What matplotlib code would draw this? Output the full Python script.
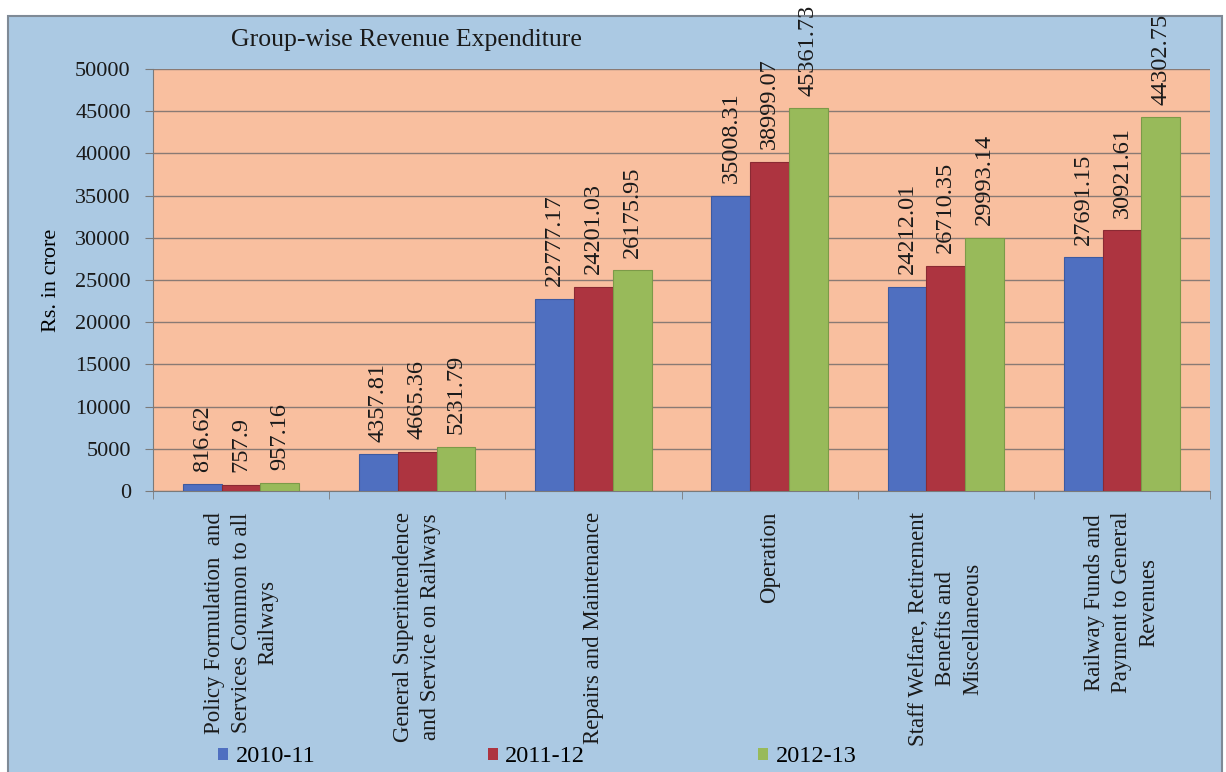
import matplotlib.pyplot as plt
import numpy as np
from matplotlib.patches import Rectangle

plt.rcParams['font.family'] = ['Liberation Serif', 'DejaVu Serif']

categories = [
    "Policy Formulation  and\nServices Common to all\nRailways",
    "General Superintendence\nand Service on Railways",
    "Repairs and Maintenance",
    "Operation",
    "Staff Welfare, Retirement\nBenefits and\nMiscellaneous",
    "Railway Funds and\nPayment to General\nRevenues",
]
years = ["2010-11", "2011-12", "2012-13"]
exp_2010_11 = [816.62, 4357.81, 22777.17, 35008.31, 24212.01, 27691.15]
exp_2011_12 = [757.9, 4665.36, 24201.03, 38999.07, 26710.35, 30921.61]
exp_2012_13 = [957.16, 5231.79, 26175.95, 45361.73, 29993.14, 44302.75]
yticks = list(range(0, 50001, 5000))

series = [exp_2010_11, exp_2011_12, exp_2012_13]
colors = ['#4f6fc0', '#ad3440', '#98ba5a']
edges = ['#3d5aa0', '#8a2a33', '#7c9a48']

fig = plt.figure(figsize=(12.26, 7.72), dpi=100)
fig.patch.set_facecolor('white')

# light blue chart panel with grey border
panel = Rectangle((8 / 1226, -0.01), 1214 / 1226, 1 - 16 / 772 + 0.01,
                  transform=fig.transFigure, facecolor='#abc9e3',
                  edgecolor='#7f8a96', linewidth=1.5, zorder=-10)
fig.patches.append(panel)

ax = fig.add_axes([153 / 1226, 1 - 491 / 772, (1210 - 153) / 1226, (491 - 69) / 772])
ax.set_facecolor('#f9bf9f')

x = np.arange(len(categories))
w = 0.22
for i, (vals, c, ec) in enumerate(zip(series, colors, edges)):
    bars = ax.bar(x + (i - 1) * w, vals, w, color=c, edgecolor=ec,
                  linewidth=0.8, label=years[i], zorder=3)
    for b, v in zip(bars, vals):
        ax.annotate(str(v), (b.get_x() + b.get_width() / 2, v),
                    xytext=(0, 9), textcoords='offset points',
                    rotation=90, ha='center', va='bottom', fontsize=17.5,
                    color='#1a1a1a', zorder=4)

ax.set_xlim(-0.5, len(categories) - 0.5)
ax.set_ylim(0, 50000)
ax.set_yticks(yticks)
ax.set_yticklabels([str(t) for t in yticks], fontsize=16, color='#1a1a1a')
ax.yaxis.grid(True, color='#8a7a74', linewidth=1.0, zorder=1)
ax.set_axisbelow(True)

ax.set_xticks(x)
ax.set_xticklabels(categories, rotation=90, fontsize=16.5, ha='center',
                   va='top', multialignment='center', linespacing=1.38,
                   color='#1a1a1a')
ax.tick_params(axis='x', which='major', length=0, pad=15)
ax.set_xticks(np.arange(-0.5, len(categories)), minor=True)
ax.tick_params(axis='x', which='minor', length=6, color='#7a7a7a')
ax.tick_params(axis='y', length=6, color='#7a7a7a', pad=10)

for s in ['top', 'right']:
    ax.spines[s].set_visible(False)
for s in ['left', 'bottom']:
    ax.spines[s].set_color('#7a7a7a')

ax.set_ylabel('Rs. in crore', fontsize=16, labelpad=10)

fig.text(406 / 1226, 1 - 40 / 772, 'Group-wise Revenue Expenditure',
         fontsize=18.5, ha='center', va='center', color='#1a1a1a')

leg = fig.legend(loc='center left', bbox_to_anchor=(218 / 1226, 1 - 757 / 772),
                 ncol=3, frameon=False, fontsize=17.5, handlelength=0.42,
                 handleheight=0.42, handletextpad=0.3, columnspacing=7.1,
                 borderpad=0, borderaxespad=0)
for h in leg.legend_handles:
    h.set_edgecolor('none')

fig.savefig('out.png', dpi=100, facecolor=fig.get_facecolor())
